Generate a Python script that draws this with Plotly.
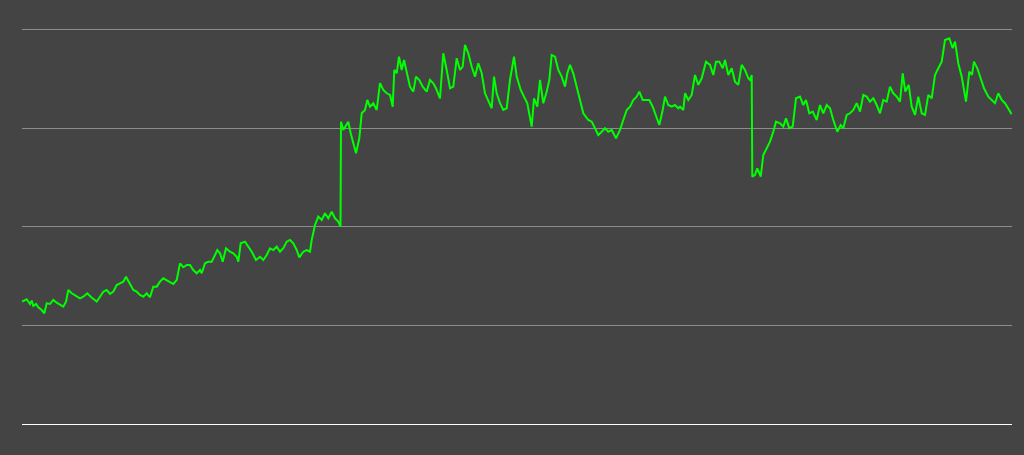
import plotly.graph_objects as go

# x positions (time index) and series values
x_vals = [0, 4.7, 8, 9.7, 11.3, 14, 16.3, 19.7, 22.3, 24.7, 28, 31.3, 34.7, 38, 41.3, 44, 46.3, 49.7, 54.7, 58,
          61.3, 65.3, 68.7, 74.7, 78, 81.3, 84.7, 88, 91.3, 94.7, 98, 101.3, 104, 107.3, 111.3, 114.7, 118, 121.3, 124.7, 128,
          131.3, 134.7, 138, 141.3, 144.7, 148, 151.3, 154.7, 158, 161.3, 164.7, 168, 171.3, 174.7, 178, 179.7, 183, 186.3, 189.7, 193,
          195.3, 198, 200.7, 204, 208, 211.3, 214.7, 216.3, 218.7, 223, 226.3, 229.7, 234, 238, 241.3, 244.7, 248, 251.3, 254.7, 258,
          261.3, 264.7, 268, 271.3, 274.7, 277.3, 281.3, 284.7, 288, 289.7, 293, 296.3, 299.7, 303, 306.3, 309.7, 313, 316.3, 318.5,
          319, 321.3, 324, 326.3, 328.7, 331.3, 334, 337.3, 339.7, 343, 345.3, 348, 351.3, 354.7, 358, 361.3, 364.7, 368, 370.7,
          372.3, 374.7, 377, 379.7, 382, 384.7, 388, 391.3, 394, 397.3, 400.7, 404.7, 408, 411.3, 414, 418, 421.3, 424.7, 428, 431.3,
          434.7, 438, 440.7, 443, 446.3, 449.7, 453, 456.3, 459.7, 463, 466.3, 469.7, 472, 474.7, 478, 481.3, 484.7, 488, 492, 494.7,
          498.7, 502, 505.3, 509.7, 512, 515.3, 518, 521.3, 524.7, 527.3, 529.7, 533, 536.3, 539.7, 543, 545.3, 548, 551.3, 554.7, 558,
          561.3, 566.3, 569.7, 573, 576.3, 579.7, 583, 586.3, 589.7, 594, 598, 601.3, 604.7, 608, 611.3, 614.7, 617.3, 620.7, 624, 627.3,
          630.7, 634, 637.3, 640.7, 643, 646.3, 649.7, 653, 656.3, 658, 661.3, 663, 666.3, 669.7, 673, 676.3, 679.7, 684, 688, 691.3,
          694, 697.3, 700.7, 703, 706.3, 709.7, 713, 716.3, 719.7, 723, 726.3, 728, 729.7, 730.3, 733, 735.3, 738.7, 741.3, 744.7, 748,
          751.3, 754, 758, 761.3, 764, 767.3, 770.7, 774, 778, 781.3, 784, 787.3, 790.7, 794.7, 798, 801.3, 804.7, 808, 811.3, 815.3,
          818.7, 821.3, 824.7, 828, 831.3, 834.7, 838, 841.3, 844.7, 848, 851.3, 854.7, 858, 861.3, 864.7, 868, 871.3, 874.7, 878, 880.7,
          883.3, 886.7, 889.7, 893, 896.3, 899.7, 903, 906.3, 909.7, 913, 916.3, 919.7, 923, 927.3, 930.7, 933, 936.3, 939.7, 944, 947.3,
          950, 952, 955.3, 958.7, 962, 966.3, 969.7, 973, 976.3, 979.7, 983, 986.3, 989.7]

y_vals = [124.2, 126.6, 121.8, 125.2, 119.8, 121.8, 118.5, 115.7, 112.4, 122.5, 121.8, 125.9, 123.1, 120.8, 119.1, 124.2, 136.0, 132.7, 129.2, 127.6,
          129.2, 132.7, 129.2, 124.2, 129.2, 134.3, 136.0, 132.0, 134.3, 141.1, 142.8, 144.5, 149.5, 142.8, 136.0, 134.3, 131.0, 129.2, 132.7, 128.6,
          139.4, 139.4, 144.5, 147.9, 146.2, 144.5, 142.1, 146.2, 163.1, 159.1, 161.4, 161.4, 156.3, 153.0, 156.3, 153.0, 163.1, 164.8, 164.8, 171.6,
          176.6, 173.3, 164.8, 178.4, 174.9, 173.3, 169.8, 164.8, 183.4, 185.1, 180.0, 174.9, 166.5, 169.8, 166.5, 171.6, 178.4, 176.6, 180.0, 174.9,
          178.4, 185.1, 186.8, 183.4, 176.6, 169.2, 174.9, 176.6, 174.9, 186.8, 202.0, 210.5, 207.1, 213.9, 208.8, 215.5, 208.8, 205.4, 200.3,
          306.9, 298.5, 303.5, 306.9, 295.1, 285.0, 274.8, 290.0, 315.4, 318.8, 328.9, 322.1, 325.6, 318.8, 345.9, 339.1, 335.7, 334.0, 322.1,
          359.4, 356.0, 372.9, 359.4, 369.5, 356.0, 342.4, 337.4, 352.6, 349.2, 342.4, 337.4, 349.2, 345.9, 340.8, 330.6, 376.3, 359.4, 340.8, 342.4,
          371.3, 359.4, 362.7, 384.8, 376.3, 362.7, 352.6, 366.2, 356.0, 335.7, 327.2, 320.5, 352.6, 335.7, 325.6, 318.8, 320.5, 349.2, 372.9, 352.6,
          339.1, 332.3, 325.6, 301.8, 330.6, 322.1, 349.2, 325.6, 337.4, 349.2, 374.6, 372.9, 359.4, 352.6, 342.4, 356.0, 364.5, 356.0, 342.4, 328.9,
          315.4, 308.6, 306.9, 300.2, 293.4, 296.7, 300.2, 296.7, 298.5, 290.0, 298.5, 308.6, 318.8, 322.1, 328.9, 332.3, 337.4, 328.9, 328.9, 328.9,
          322.1, 312.0, 303.5, 318.8, 332.3, 323.8, 322.1, 323.8, 320.5, 322.1, 318.8, 335.7, 328.9, 334.0, 354.3, 344.2, 350.9, 367.8, 364.5, 354.3,
          367.8, 367.8, 361.1, 369.5, 354.3, 361.1, 347.5, 344.2, 364.5, 359.4, 350.9, 349.2, 354.3, 251.1, 252.8, 259.6, 251.1, 273.1, 279.9, 286.6,
          296.7, 306.9, 305.3, 301.8, 310.3, 300.2, 301.8, 330.6, 332.3, 323.8, 328.9, 315.4, 317.1, 308.6, 323.8, 315.4, 323.8, 320.5, 308.6, 296.7,
          303.5, 300.2, 313.7, 315.4, 318.8, 325.6, 317.1, 334.0, 332.3, 327.2, 330.6, 323.8, 315.4, 328.9, 327.2, 342.4, 335.7, 332.3, 327.2, 356.0,
          337.4, 344.2, 322.1, 313.7, 332.3, 315.4, 313.7, 334.0, 330.6, 354.3, 361.1, 367.8, 389.8, 391.6, 381.4, 388.1, 366.2, 352.6, 327.2, 357.7,
          354.3, 367.8, 361.1, 350.9, 340.8, 332.3, 328.9, 325.6, 335.7, 328.9, 325.6, 320.5, 314.4]

y_ticks = [0, 100, 200, 300, 400]

fig = go.Figure()
fig.add_trace(go.Scatter(
    x=x_vals, y=y_vals, mode="lines",
    line=dict(color="#00ff00", width=2),
    hoverinfo="skip", showlegend=False,
))

fig.update_layout(
    width=1024, height=455,
    margin=dict(l=22, r=12, t=26, b=31),
    paper_bgcolor="#444444",
    plot_bgcolor="#444444",
    xaxis=dict(range=[0, 990], showgrid=False, zeroline=False, showticklabels=False,
               showline=True, linecolor="#ffffff", linewidth=1, ticks=""),
    yaxis=dict(range=[0, 404], tickvals=y_ticks, showgrid=True, gridcolor="#8c8c8c", gridwidth=1,
               zeroline=False, showticklabels=False, ticks="", showline=False),
)

fig.write_html(
    "out.html",
    config={"displayModeBar": False},
    post_script="document.body.style.margin='0';document.body.style.background='#444444';",
)
